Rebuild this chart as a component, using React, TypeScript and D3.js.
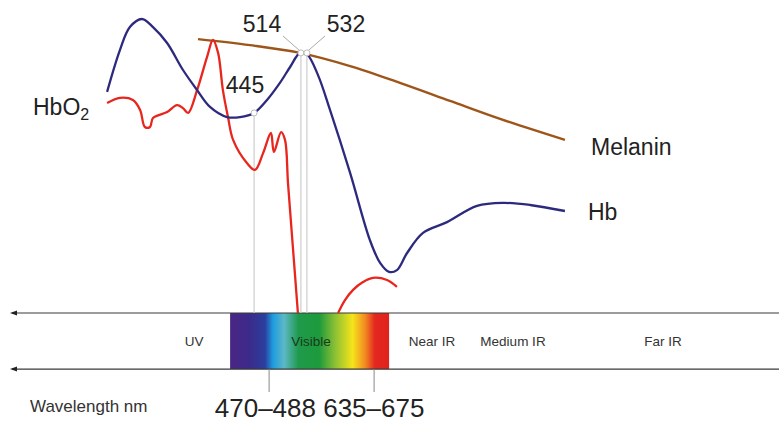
import * as d3 from 'd3';

// Relative position units across the figure (x) and schematic absorption (y)
const hbPoints: [number, number][] = [
  [35.7, 73.7], [40.0, 87.7], [43.3, 95.3], [47.3, 98.0], [51.0, 95.3], [55.7, 90.0],
  [61.0, 81.0], [65.7, 74.3], [70.0, 68.7], [75.7, 65.3], [80.0, 65.3], [84.7, 66.7],
  [89.0, 71.0], [93.3, 76.7], [96.7, 82.0], [100.0, 86.7], [102.3, 86.3], [106.0, 79.3],
  [110.0, 67.7], [116.7, 46.7], [123.3, 24.3], [126.7, 16.7], [129.7, 13.7], [132.3, 14.3],
  [135.7, 20.0], [141.0, 26.7], [149.0, 30.3], [159.0, 35.7], [167.7, 36.7], [176.7, 36.0],
  [188.3, 34.0]
];

const hbo2Points: [number, number][] = [
  [35.7, 70.0], [40.0, 71.7], [44.3, 71.0], [46.7, 67.7], [48.3, 62.0], [50.0, 62.0],
  [51.0, 65.0], [55.7, 67.0], [59.0, 69.3], [61.0, 68.3], [62.7, 66.7], [65.7, 74.3],
  [69.0, 85.3], [71.0, 91.0], [72.7, 86.7], [74.3, 74.3], [76.0, 65.3], [77.7, 57.7],
  [82.3, 50.0], [85.0, 47.7], [87.7, 53.3], [90.3, 60.0], [91.3, 53.7], [93.7, 60.3],
  [95.0, 57.7], [96.0, 43.3], [97.7, 21.0], [99.3, 0]
];

const hbo2Tail: [number, number][] = [
  [112.7, 0], [115.0, 4.3], [117.7, 7.7], [121.0, 10.3], [124.3, 11.7], [129.0, 11.0], [132.3, 8.7]
];

const melaninPoints: [number, number][] = [
  [66.0, 91.3], [83.3, 89.3], [100.0, 86.7], [116.7, 82.3], [133.3, 76.7],
  [150.0, 70.7], [166.7, 64.7], [188.3, 57.7]
];

const peakLabels = ['445', '514', '532'];
const peakX = [84.7, 100.3, 102.3];
const peakY = [66.7, 86.7, 86.7];

const regionNames = ['UV', 'Visible', 'Near IR', 'Medium IR', 'Far IR'];
const regionX = [64.7, 103.7, 144, 171, 221];

const tickLabels = ['470–488', '635–675'];
const tickX = [89.7, 124.7];

const spectrumRange = [76.7, 129.7];
const spectrumColors = [
  '#4a2683', '#3b2a8a', '#2b3f9e', '#1e9de0', '#5cb8c6', '#1f9a4c',
  '#1d9a3c', '#8cc034', '#f5e41a', '#f28a22', '#e3281f', '#e0221e'
];
const spectrumStops = [0, 0.12, 0.22, 0.27, 0.34, 0.43, 0.56, 0.66, 0.77, 0.85, 0.91, 1];

export default function App() {
  const width = 779;
  const height = 424;
  const font = '"Liberation Sans", Arial, Helvetica, sans-serif';

  const x = d3.scaleLinear().domain([0, 260]).range([0, 780]);
  const y = d3.scaleLinear().domain([0, 100]).range([313, 13]);
  const bandBottom = -18.7;

  const line = d3.line<[number, number]>()
    .x(d => x(d[0]))
    .y(d => y(d[1]))
    .curve(d3.curveCatmullRom.alpha(0.5));

  const axisY = [y(0), y(bandBottom)];

  return (
    <div style={{ position: 'absolute', left: 0, top: 0 }}>
      <svg width={width} height={height} style={{ display: 'block', background: '#fff' }}>
        <defs>
          <linearGradient id="spec" x1="0" x2="1" y1="0" y2="0">
            {spectrumStops.map((s, i) => (
              <stop key={i} offset={s} stopColor={spectrumColors[i]} />
            ))}
          </linearGradient>
        </defs>

        {/* spectrum band */}
        <rect
          x={x(spectrumRange[0])}
          y={y(0)}
          width={x(spectrumRange[1]) - x(spectrumRange[0])}
          height={y(bandBottom) - y(0)}
          fill="url(#spec)"
        />

        {/* axis lines with left arrows */}
        {axisY.map((ay, i) => (
          <g key={i}>
            <line x1={12} x2={width} y1={ay} y2={ay} stroke="#3a3a3a" strokeWidth={1.2} />
            <path d={`M10,${ay} L17,${ay - 2.5} L17,${ay + 2.5} Z`} fill="#222" />
          </g>
        ))}

        {/* region labels */}
        {regionNames.map((r, i) => (
          <text
            key={r}
            x={x(regionX[i])}
            y={y(bandBottom / 2) + 5}
            textAnchor="middle"
            fontFamily={font}
            fontSize={13.5}
            fill={i === 1 ? '#1a3a1a' : '#333'}
          >
            {r}
          </text>
        ))}

        {/* ticks below band */}
        {tickX.map((t, i) => (
          <line key={i} x1={x(t)} x2={x(t)} y1={y(bandBottom)} y2={392} stroke="#888" strokeWidth={1} />
        ))}
        <text x={(x(tickX[0]) + x(tickX[1])) / 2 - 2} y={417} textAnchor="middle" fontFamily={font} fontSize={26} fill="#222">
          {tickLabels.join(' ')}
        </text>
        <text x={30} y={412} fontFamily={font} fontSize={17} fill="#333">Wavelength nm</text>

        {/* drop lines from peaks */}
        {peakX.map((p, i) => (
          <line key={i} x1={x(p)} x2={x(p)} y1={y(peakY[i]) + 3} y2={y(0)} stroke="#cdcdcd" strokeWidth={1.2} />
        ))}

        {/* curves */}
        <path d={line(melaninPoints) ?? ''} fill="none" stroke="#9e5519" strokeWidth={2.4} />
        <path d={line(hbo2Points) ?? ''} fill="none" stroke="#e8261e" strokeWidth={2.3} />
        <path d={line(hbo2Tail) ?? ''} fill="none" stroke="#e8261e" strokeWidth={2.3} />
        <path d={line(hbPoints) ?? ''} fill="none" stroke="#2d2a7e" strokeWidth={2.3} />

        {/* leader lines for 514 / 532 */}
        <line x1={283} y1={36} x2={x(peakX[1]) - 1} y2={y(peakY[1]) - 2} stroke="#aaa" strokeWidth={1} />
        <line x1={325} y1={36} x2={x(peakX[2]) + 1} y2={y(peakY[2]) - 2} stroke="#aaa" strokeWidth={1} />

        {/* peak markers */}
        {peakX.map((p, i) => (
          <circle key={i} cx={x(p)} cy={y(peakY[i])} r={3} fill="#fff" stroke="#bbb" strokeWidth={1} />
        ))}

        {/* peak labels */}
        <text x={245} y={93} textAnchor="middle" fontFamily={font} fontSize={23} fill="#222">{peakLabels[0]}</text>
        <text x={262} y={32} textAnchor="middle" fontFamily={font} fontSize={23} fill="#222">{peakLabels[1]}</text>
        <text x={346} y={32} textAnchor="middle" fontFamily={font} fontSize={23} fill="#222">{peakLabels[2]}</text>

        {/* series labels */}
        <text x={33} y={115} fontFamily={font} fontSize={23} fill="#222">
          HbO<tspan fontSize={16} dy={5}>2</tspan>
        </text>
        <text x={591} y={155} fontFamily={font} fontSize={23} fill="#222">Melanin</text>
        <text x={588} y={220} fontFamily={font} fontSize={23} fill="#222">Hb</text>
      </svg>
    </div>
  );
}
